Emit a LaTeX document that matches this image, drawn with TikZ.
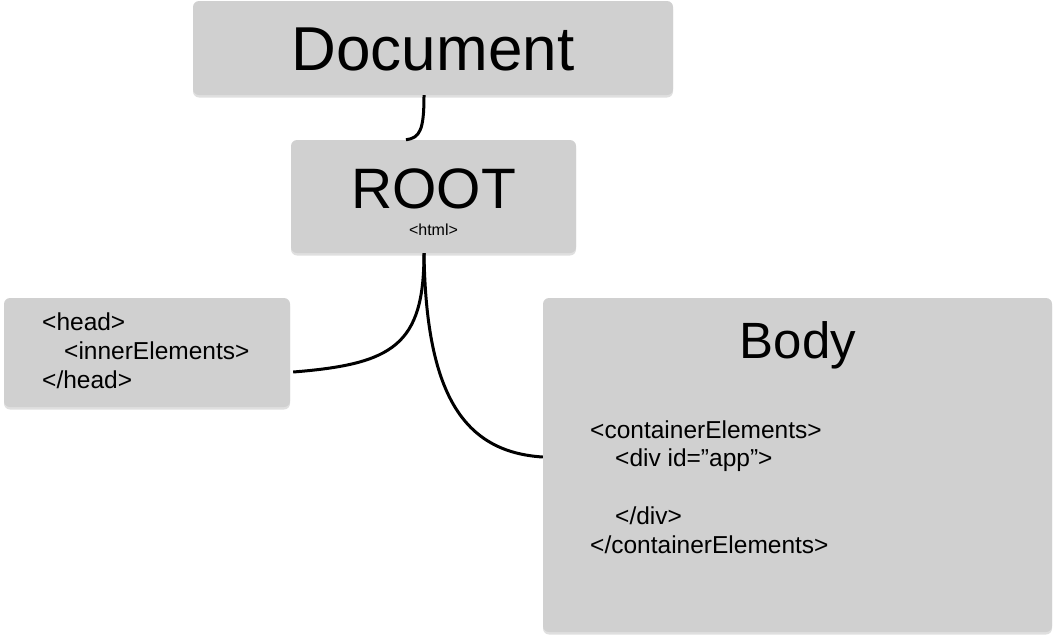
\documentclass[tikz,border=0pt]{standalone}
\usepackage{fontspec}
\setmainfont{Liberation Sans}
\usetikzlibrary{shadows}
\definecolor{boxgray}{RGB}{208,208,208}
\begin{document}
\begin{tikzpicture}[x=1pt,y=-1pt,
  box/.style={fill=boxgray, rounded corners=6pt, inner sep=0pt,
    drop shadow={opacity=0.25, shadow xshift=0pt, shadow yshift=-2.5pt}},
  conn/.style={line width=3pt, black},
  title/.style={anchor=base, inner sep=0pt, text depth=0pt},
  code/.style={font=\fontsize{24.5}{28.7}\selectfont, align=left, anchor=base west, inner sep=0pt}]
\useasboundingbox (0,0) rectangle (1056,641);
% boxes
\node[box, minimum width=480pt, minimum height=94pt] (doc) at (433,48) {};
\node[box, minimum width=285pt, minimum height=113pt] (root) at (433.5,196.5) {};
\node[box, minimum width=286pt, minimum height=109pt] (head) at (147,352.5) {};
\node[box, minimum width=509pt, minimum height=334pt] (body) at (797.5,465) {};
% texts
\node[title, font=\fontsize{62}{70}\selectfont] (doctext) at (433,70) {Document};
\node[title, font=\fontsize{57}{64}\selectfont] (roottext) at (433.5,208) {ROOT};
\node[title, font=\fontsize{16}{20}\selectfont] (html) at (433.5,235) {<html>};
\node[title, font=\fontsize{51}{58}\selectfont] (bodytitle) at (798,358) {Body};
\node[code] (headcode) at (42,388) {<head>\\\hspace*{22pt}<innerElements>\\</head>};
\node[code] (bodycode) at (590,553) {<containerElements>\\\hspace*{25pt}<div id=”app”>\\~\\\hspace*{25pt}</div>\\</containerElements>};
% connectors
\draw[conn] ([xshift=-9pt]doc.south) .. controls +(0,35) and +(14,-2) .. ([xshift=-27.5pt]root.north);
\draw[conn] ([xshift=-9.5pt]root.south) .. controls +(0,92) and +(100,-8) .. ([yshift=-19.5pt,xshift=3pt]head.east);
\draw[conn] ([xshift=-9.5pt]root.south) .. controls +(2,140) and +(-80,-5) .. ([yshift=8pt]body.west);
\end{tikzpicture}
\end{document}
